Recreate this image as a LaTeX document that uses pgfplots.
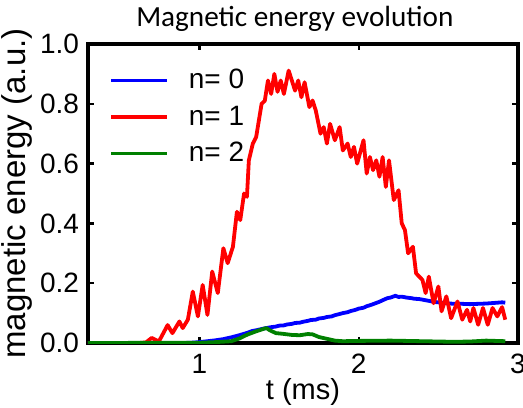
\documentclass[border=0pt]{standalone}
\usepackage{pgfplots}
\pgfplotsset{compat=1.18}
\usepackage{fontspec}
\setmainfont{Liberation Sans}
\newfontfamily\calibri{Carlito}
\definecolor{mblue}{RGB}{0,0,255}
\definecolor{mred}{RGB}{255,0,0}
\definecolor{mgreen}{RGB}{0,128,0}
\begin{document}
\begin{tikzpicture}
\begin{axis}[
  name=ax,
  scale only axis,
  width=215pt, height=149.5pt,
  xmin=0.3, xmax=3.0, ymin=0, ymax=1,
  xtick={1,2,3}, ytick={0,0.2,0.4,0.6,0.8,1.0},
  tick align=inside,
  major tick length=3pt,
  tick style={black, line width=1.2pt},
  axis line style={line width=1.7pt},
  /pgf/number format/assume math mode=true,
  yticklabel style={/pgf/number format/fixed, /pgf/number format/fixed zerofill, /pgf/number format/precision=1, xshift=-1pt},
  ticklabel style={font=\fontsize{14}{16}\selectfont},
  xticklabel style={yshift=-2pt},
  xlabel={t (ms)},
  xlabel style={at={(axis description cs:0.5,-0.117)}, anchor=north, inner sep=0pt, font=\fontsize{14.5}{16}\selectfont},
  ylabel={magnetic energy (a.u.)},
  ylabel style={at={(axis description cs:-0.128,0.5)}, anchor=south, inner sep=0pt, font=\fontsize{16.5}{18}\selectfont},
  every axis title shift=0pt,
  title={Magnetic energy evolution},
  title style={at={(axis description cs:0.481,1.057)}, anchor=base, inner sep=0pt, font=\calibri\fontsize{14.6}{16}\selectfont},
  legend style={at={(axis description cs:0.049,0.93)}, anchor=north west, draw=none, fill=none,
    font=\fontsize{14}{16}\selectfont, row sep=3pt, inner sep=0pt, column sep=4pt,
    nodes={inner xsep=6pt}},
  legend cell align=left,
  legend image code/.code={\draw[#1, line width=1.7pt] (0pt,0pt) -- (28pt,0pt);},
  every axis plot/.append style={line width=1.9pt, line join=round},
]
\addplot[mblue] coordinates {
(0.3,0) (0.9,0) (0.95,0.001) (1.0,0.003) (1.05,0.006) (1.1,0.009) (1.15,0.013) (1.2,0.019)
(1.25,0.026) (1.3,0.034) (1.33,0.040) (1.36,0.043) (1.4,0.048) (1.43,0.051) (1.45,0.053) (1.48,0.055)
(1.5,0.058) (1.53,0.059) (1.55,0.062) (1.58,0.064) (1.6,0.067) (1.63,0.068) (1.65,0.071) (1.68,0.074)
(1.7,0.077) (1.73,0.078) (1.75,0.082) (1.78,0.084) (1.8,0.087) (1.83,0.089) (1.85,0.093) (1.88,0.097)
(1.9,0.100) (1.93,0.103) (1.95,0.107) (1.98,0.111) (2.0,0.115) (2.03,0.118) (2.05,0.123) (2.08,0.128)
(2.1,0.132) (2.13,0.138) (2.15,0.143) (2.18,0.150) (2.2,0.152) (2.23,0.158) (2.25,0.154) (2.27,0.155)
(2.3,0.152) (2.33,0.150) (2.35,0.148) (2.38,0.147) (2.4,0.145) (2.43,0.142) (2.45,0.140) (2.48,0.137)
(2.5,0.136) (2.55,0.133) (2.6,0.131) (2.65,0.131) (2.7,0.130) (2.75,0.131) (2.8,0.132) (2.85,0.134)
(2.9,0.136) (2.92,0.135)
};
\addlegendentry{n= 0}
\addplot[mred] coordinates {
(0.3,0) (0.62,0) (0.664,0.002) (0.70,0.017) (0.745,0.005) (0.80,0.06) (0.83,0.033) (0.874,0.072)
(0.895,0.05) (0.927,0.078) (0.958,0.172) (0.99,0.089) (1.02,0.194) (1.05,0.094) (1.08,0.239)
(1.115,0.167) (1.15,0.317) (1.177,0.267) (1.21,0.322) (1.235,0.439) (1.256,0.411) (1.28,0.5)
(1.298,0.489) (1.31,0.611) (1.335,0.667) (1.356,0.689) (1.39,0.8) (1.41,0.81) (1.43,0.878)
(1.45,0.833) (1.47,0.9) (1.49,0.84) (1.51,0.878) (1.53,0.833) (1.56,0.911) (1.58,0.878)
(1.60,0.844) (1.62,0.878) (1.64,0.822) (1.66,0.872) (1.69,0.789) (1.71,0.811) (1.73,0.778)
(1.76,0.7) (1.78,0.722) (1.80,0.667) (1.82,0.733) (1.85,0.678) (1.88,0.722) (1.90,0.644)
(1.93,0.667) (1.95,0.622) (1.97,0.656) (1.99,0.6) (2.03,0.678) (2.05,0.567) (2.07,0.622)
(2.09,0.578) (2.11,0.611) (2.13,0.556) (2.15,0.622) (2.17,0.522) (2.19,0.611) (2.22,0.478)
(2.25,0.511) (2.27,0.4) (2.29,0.378) (2.31,0.3) (2.34,0.322) (2.36,0.233) (2.40,0.211)
(2.42,0.167) (2.44,0.222) (2.47,0.133) (2.50,0.189) (2.52,0.106) (2.55,0.156) (2.58,0.083)
(2.62,0.139) (2.65,0.078) (2.68,0.111) (2.70,0.072) (2.72,0.117) (2.75,0.061) (2.78,0.117)
(2.81,0.061) (2.84,0.117) (2.87,0.089) (2.90,0.120) (2.92,0.078)
};
\addlegendentry{n= 1}
\addplot[mgreen] coordinates {
(0.3,0) (1.0,0.001) (1.1,0.003) (1.2,0.006) (1.25,0.015) (1.3,0.028) (1.35,0.038) (1.4,0.047)
(1.42,0.050) (1.44,0.043) (1.48,0.033) (1.52,0.031) (1.58,0.027) (1.63,0.026) (1.68,0.030)
(1.71,0.029) (1.75,0.020) (1.8,0.014) (1.85,0.008) (1.9,0.006) (2.0,0.007) (2.2,0.008)
(2.4,0.006) (2.6,0.004) (2.7,0.005) (2.8,0.008) (2.92,0.006)
};
\addlegendentry{n= 2}
\end{axis}
\pgfresetboundingbox
\path[use as bounding box] ([xshift=-44pt,yshift=-32pt]ax.south west) rectangle ([xshift=2.5pt,yshift=22pt]ax.north east);
\end{tikzpicture}
\end{document}
